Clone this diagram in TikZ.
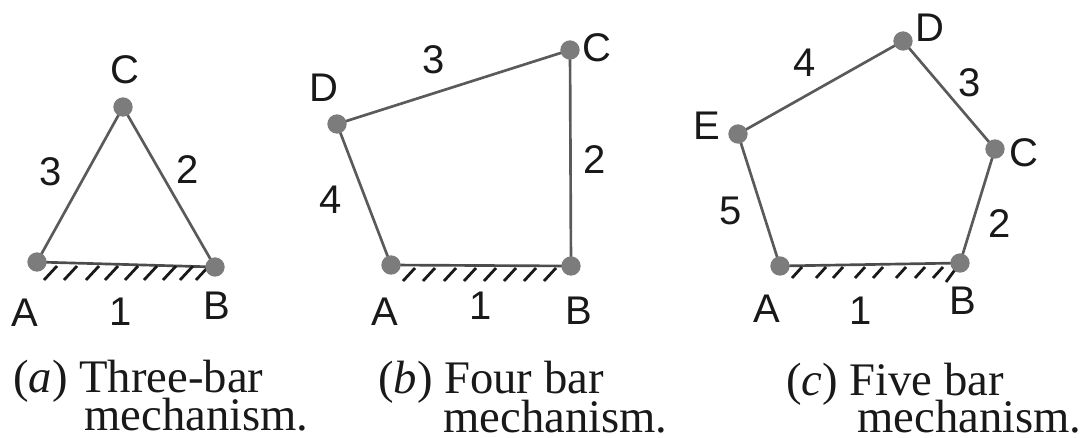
\documentclass[tikz,border=0pt]{standalone}
\usepackage{fontspec}
\setmainfont{Liberation Serif}
\newfontfamily\lblfont{Liberation Sans}
\definecolor{jointgray}{HTML}{7C7C7C}
\definecolor{linkgray}{HTML}{5A5A5A}
\tikzset{
  joint/.style={circle,fill=jointgray,draw=none,minimum size=14.5pt,inner sep=0pt},
  link/.style={draw=linkgray,line width=2pt},
  ground/.style={draw=black!70,line width=2pt},
  hatch/.style={draw=black!90,line width=2.1pt},
  lbl/.style={font=\lblfont\fontsize{30}{30}\selectfont,inner sep=0pt,text=black!90},
  captext/.style={font=\fontsize{35}{35}\selectfont,inner sep=0pt,anchor=base west,text=black!90,text height=22pt,text depth=0pt}
}
\begin{document}
\begin{tikzpicture}[x=0.75pt,y=-0.75pt]
\useasboundingbox (0,0) rectangle (1086,437);
% (a)
\coordinate (a1) at (37,262); \coordinate (a2) at (215,267); \coordinate (a3) at (123,107);
\draw[link] (a1) -- (a3) -- (a2);
\draw[ground] (a1) -- (a2);
\foreach \x in {57,77,99,118,138,157,176,193,209}
  \draw[hatch] (\x,266) -- ++(-13,14);
\node[joint] (A1) at (a1) {}; \node[joint] (B1) at (a2) {}; \node[joint] (C1) at (a3) {};
\node[lbl] (lc1) at (125,70) {C};
\node[lbl] (l31) at (51,172) {3};
\node[lbl] (l21) at (188,170) {2};
\node[lbl] (la1) at (25,313) {A};
\node[lbl] (l11) at (121,312) {1};
\node[lbl] (lb1) at (217,306) {B};
\node[captext] (ca1) at (13,392) {(\textit{a}) Three-bar};
\node[captext] (ca2) at (84,430) {mechanism.};
% (b)
\coordinate (b1) at (391,265); \coordinate (b2) at (571,266); \coordinate (b3) at (570,50); \coordinate (b4) at (337,124);
\draw[link] (b1) -- (b4) -- (b3) -- (b2);
\draw[ground] (b1) -- (b2);
\foreach \x in {415,435,456,476,496,516,536,556}
  \draw[hatch] (\x,268) -- ++(-12,13);
\node[joint] (A2) at (b1) {}; \node[joint] (B2) at (b2) {}; \node[joint] (C2) at (b3) {}; \node[joint] (D2) at (b4) {};
\node[lbl] (ld2) at (324,88) {D};
\node[lbl] (l32) at (434,60) {3};
\node[lbl] (lc2) at (597,48) {C};
\node[lbl] (l22) at (595,160) {2};
\node[lbl] (l42) at (331,200) {4};
\node[lbl] (la2) at (385,312) {A};
\node[lbl] (l12) at (481,306) {1};
\node[lbl] (lb2) at (579,311) {B};
\node[captext] (cb1) at (378,393) {(\textit{b}) Four bar};
\node[captext] (cb2) at (443,432) {mechanism.};
% (c)
\coordinate (c1) at (780,266); \coordinate (c2) at (960,263); \coordinate (c3) at (995,149); \coordinate (c4) at (903,41); \coordinate (c5) at (738,134);
\draw[link] (c1) -- (c5) -- (c4) -- (c3) -- (c2);
\draw[ground] (c1) -- (c2);
\foreach \x in {802,826,843,865,883,906,925,943}
  \draw[hatch] (\x,267) -- ++(-10,11);
\draw[hatch] (957,267) -- ++(-11,15);
\node[joint] (A3) at (c1) {}; \node[joint] (B3) at (c2) {}; \node[joint] (C3) at (c3) {}; \node[joint] (D3) at (c4) {}; \node[joint] (E3) at (c5) {};
\node[lbl] (ld3) at (930,28) {D};
\node[lbl] (l43) at (805,63) {4};
\node[lbl] (l33) at (970,83) {3};
\node[lbl] (le3) at (707,126) {E};
\node[lbl] (lc3) at (1024,153) {C};
\node[lbl] (l53) at (731,211) {5};
\node[lbl] (l23) at (1000,224) {2};
\node[lbl] (la3) at (767,309) {A};
\node[lbl] (l13) at (861,311) {1};
\node[lbl] (lb3) at (963,301) {B};
\node[captext] (cc1) at (786,395) {(\textit{c}) Five bar};
\node[captext] (cc2) at (857,432) {mechanism.};
\end{tikzpicture}
\end{document}
